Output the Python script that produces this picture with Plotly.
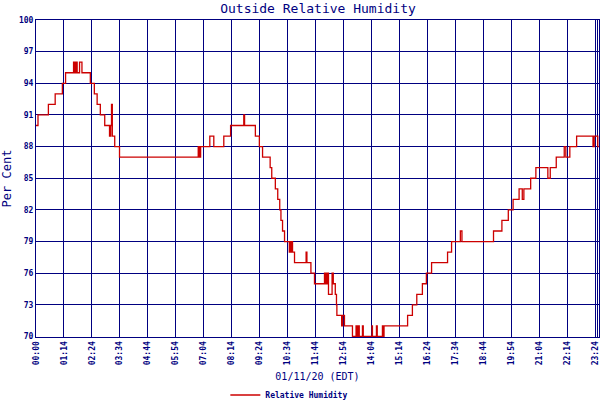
import plotly.graph_objects as go

# minutes from chart start (00:00 label) and relative humidity (%)
minutes = [0, 5, 31, 48, 66, 74, 94, 97, 100, 103, 109, 115, 136, 146, 153, 161, 172,
           184, 187, 189, 191, 197, 209, 406, 409, 412, 435, 445, 470, 487, 520, 522,
           549, 559, 567, 586, 590, 599, 605, 610, 613, 617, 622, 634, 637, 638, 640,
           642, 647, 676, 678, 688, 697, 722, 724, 725, 727, 730, 732, 741, 744, 749,
           752, 753, 765, 767, 772, 792, 801, 802, 804, 806, 807, 809, 817, 819, 841,
           842, 852, 854, 867, 869, 871, 930, 942, 953, 967, 977, 990, 1030, 1040,
           1062, 1066, 1145, 1166, 1182, 1194, 1209, 1217, 1221, 1238, 1251, 1281,
           1287, 1302, 1322, 1326, 1336, 1353, 1394, 1397, 1406, 1409]
humidity = [90, 91, 92, 93, 94, 95, 96, 95, 96, 95, 96, 95, 94, 93, 92, 91, 90,
            89, 90, 92, 89, 88, 87, 88, 87, 88, 89, 88, 89, 90, 91, 90,
            89, 88, 87, 86, 85, 84, 83, 82, 81, 80, 79, 78, 79, 78, 79,
            78, 77, 78, 77, 76, 75, 76, 75, 76, 75, 76, 74, 76, 75, 74,
            73, 72, 71, 72, 71, 70, 71, 70, 71, 70, 71, 70, 71, 70, 71,
            70, 71, 70, 71, 70, 71, 72, 73, 74, 75, 76, 77, 78, 79,
            80, 79, 80, 81, 82, 83, 84, 83, 84, 85, 86, 85,
            86, 87, 88, 87, 88, 89, 88, 89, 88, 88]

tick_pos = [0, 70, 140, 210, 280, 350, 420, 490, 560, 630, 700, 770, 840, 910,
            980, 1050, 1120, 1190, 1260, 1330, 1400, 1405]
tick_text = ["00:00", "01:14", "02:24", "03:34", "04:44", "05:54", "07:04", "08:14",
             "09:24", "10:34", "11:44", "12:54", "14:04", "15:14", "16:24", "17:34",
             "18:44", "19:54", "21:04", "22:14", "23:24", "00:00"]
y_ticks = [70, 73, 76, 79, 82, 85, 88, 91, 94, 97, 100]

NAVY = "#000080"
RED = "#cc0000"
MONO = "DejaVu Sans Mono"

fig = go.Figure()
fig.add_trace(go.Scatter(
    x=minutes, y=humidity, mode="lines", line_shape="hv",
    line=dict(color=RED, width=1.3), name="Relative Humidity"))

fig.update_layout(
    width=600, height=400,
    margin=dict(l=36, r=1, t=20, b=63, autoexpand=False),
    paper_bgcolor="white", plot_bgcolor="white",
    title=dict(text="Outside Relative Humidity", x=0.53, xanchor="center",
               y=0.978, yanchor="middle", automargin=False,
               font=dict(family=MONO, size=13, color=NAVY)),
    showlegend=True,
    legend=dict(orientation="h", x=0.45, xanchor="center", y=-0.183, yanchor="middle",
                font=dict(family=MONO, size=8, color=NAVY, weight="bold"),
                itemwidth=30, bgcolor="rgba(0,0,0,0)"),
    xaxis=dict(range=[0, 1409], tickmode="array", tickvals=tick_pos, ticktext=tick_text,
               tickangle=-90, showgrid=True, gridcolor=NAVY, gridwidth=1,
               showline=True, linecolor=NAVY, linewidth=1, mirror=True,
               ticks="", zeroline=False, layer="below traces", automargin=False,
               tickfont=dict(family=MONO, size=8, color=NAVY, weight="bold"),
               title=dict(text="01/11/20 (EDT)", standoff=8,
                          font=dict(family=MONO, size=10, color=NAVY))),
    yaxis=dict(range=[69.95, 100], tickmode="array", tickvals=y_ticks,
               showgrid=True, gridcolor=NAVY, gridwidth=1,
               showline=True, linecolor=NAVY, linewidth=1, mirror=True,
               ticks="", zeroline=False, layer="below traces", automargin=False,
               tickfont=dict(family=MONO, size=8, color=NAVY, weight="bold"),
               title=dict(text="Per Cent", standoff=6,
                          font=dict(family=MONO, size=12, color=NAVY))),
)

fig.write_html("out.html", config={"displayModeBar": False},
               post_script="document.body.style.margin='0';")
